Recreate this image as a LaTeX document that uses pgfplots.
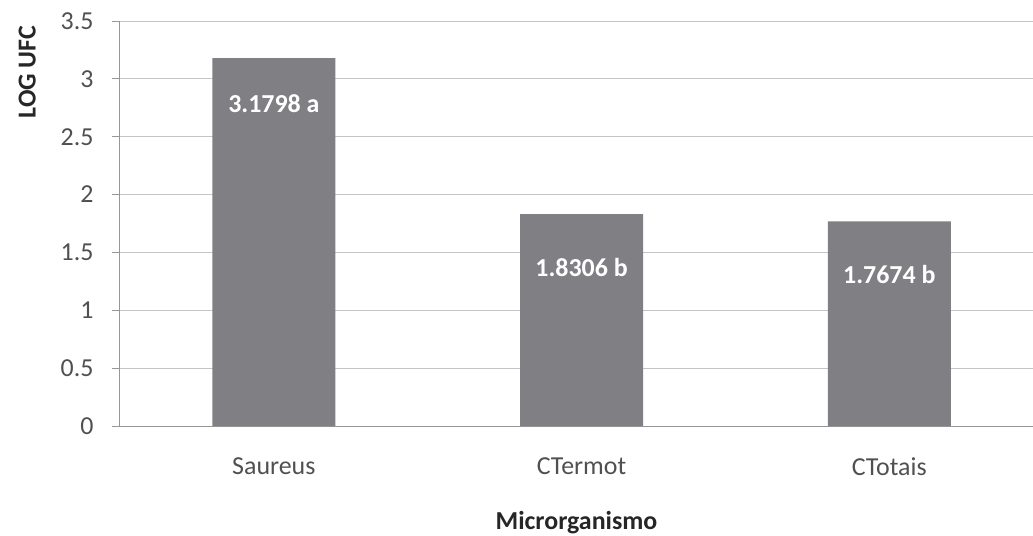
\documentclass[border=0pt]{standalone}
\usepackage{pgfplots}
\pgfplotsset{compat=1.18}
\usepackage{fontspec}
\setmainfont{Carlito}
\definecolor{barfill}{RGB}{128,128,132}
\definecolor{gridc}{RGB}{196,196,200}
\definecolor{axisc}{RGB}{150,150,155}
\definecolor{tickc}{RGB}{80,80,80}
\begin{document}
\begin{tikzpicture}
\begin{axis}[
  scale only axis,
  width=913bp, height=405bp,
  xmin=-0.5, xmax=2.467,
  ymin=0, ymax=3.5,
  axis x line*=bottom, axis y line*=left,
  axis line style={axisc, line width=1pt},
  xtick={0,1,2},
  xticklabels={Saureus,CTermot,CTotais},
  x tick style={draw=none},
  extra x ticks={-0.5,0.5,1.5},
  extra x tick labels={},
  extra x tick style={major tick length=8bp, tick style={axisc, line width=1pt}, tick align=outside, grid=none},
  ytick={0,0.5,1,1.5,2,2.5,3,3.5},
  yticklabels={0,0.5,1,1.5,2,2.5,3,3.5},
  y tick style={axisc, line width=1pt},
  tick align=outside,
  major tick length=8bp,
  ymajorgrids,
  grid style={gridc, line width=1pt},
  ticklabel style={font=\fontsize{26}{30}\selectfont, text=tickc},
  yticklabel style={xshift=-15bp},
  xticklabel style={yshift=-20bp},
  xlabel={\textbf{Microrganismo}},
  ylabel={\textbf{LOG UFC}},
  label style={font=\fontsize{26}{30}\selectfont, text=black!85},
  xlabel style={yshift=-13bp},
  ylabel style={at={(ticklabel cs:0.874)}, yshift=18bp},
  clip=false,
]
\addplot[ybar, bar width=123bp, fill=barfill, draw=none] coordinates {
  (0,3.1798) (1,1.8306) (2,1.7674)
};
\node[text=white, font=\fontsize{26}{30}\selectfont\bfseries] at (axis cs:0,2.79) {3.1798 a};
\node[text=white, font=\fontsize{26}{30}\selectfont\bfseries] at (axis cs:1,1.366) {1.8306 b};
\node[text=white, font=\fontsize{26}{30}\selectfont\bfseries] at (axis cs:2,1.305) {1.7674 b};
\coordinate (O) at (rel axis cs:0,0);
\end{axis}
\pgfresetboundingbox
\path (O) ++(-120bp,-110bp) rectangle ++(1033bp,536bp);
\end{tikzpicture}
\end{document}
